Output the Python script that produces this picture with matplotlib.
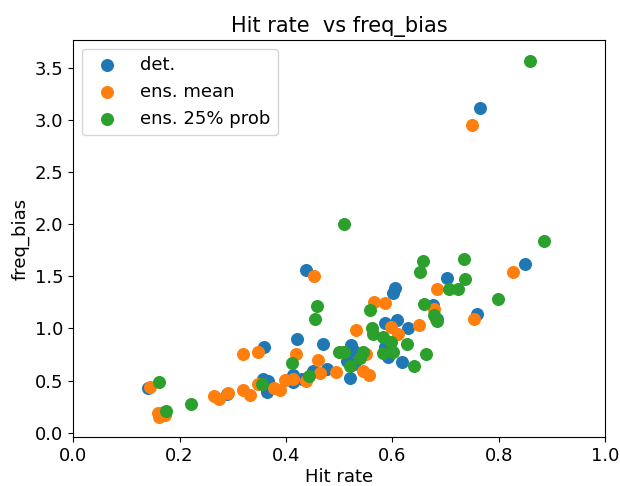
import matplotlib
matplotlib.use("Agg")
import matplotlib.pyplot as plt

# det.
det_hr = [0.141, 0.765, 0.438, 0.358, 0.420, 0.470, 0.477, 0.451, 0.356, 0.367,
          0.364, 0.413, 0.413, 0.289, 0.167, 0.849, 0.759, 0.702, 0.605, 0.602,
          0.677, 0.684, 0.587, 0.608, 0.629, 0.522, 0.527, 0.586, 0.591, 0.618,
          0.514, 0.527, 0.520, 0.430]
det_fb = [0.43, 3.11, 1.56, 0.82, 0.895, 0.853, 0.61, 0.59, 0.51, 0.50,
          0.39, 0.55, 0.49, 0.37, 0.19, 1.62, 1.14, 1.48, 1.385, 1.34,
          1.225, 1.09, 1.055, 1.08, 1.007, 0.84, 0.78, 0.825, 0.73, 0.68,
          0.69, 0.655, 0.52, 0.515]

# ens. mean
mean_hr = [0.145, 0.159, 0.161, 0.173, 0.453, 0.320, 0.348, 0.418, 0.461, 0.464,
           0.495, 0.438, 0.398, 0.414, 0.378, 0.388, 0.348, 0.320, 0.333, 0.292,
           0.265, 0.274, 0.827, 0.753, 0.684, 0.565, 0.587, 0.678, 0.650, 0.598,
           0.611, 0.532, 0.508, 0.550, 0.545, 0.556, 0.749]
mean_fb = [0.44, 0.186, 0.153, 0.17, 1.50, 0.757, 0.77, 0.75, 0.70, 0.575,
           0.585, 0.496, 0.505, 0.515, 0.43, 0.41, 0.467, 0.41, 0.36, 0.378,
           0.35, 0.32, 1.54, 1.09, 1.375, 1.256, 1.24, 1.186, 1.033, 1.016,
           0.943, 0.985, 0.77, 0.75, 0.594, 0.553, 2.947]

# ens. 25% prob
prob_hr = [0.161, 0.175, 0.222, 0.458, 0.454, 0.412, 0.443, 0.355, 0.500, 0.858,
           0.509, 0.886, 0.658, 0.652, 0.735, 0.737, 0.707, 0.723, 0.799, 0.660,
           0.558, 0.678, 0.683, 0.684, 0.562, 0.564, 0.583, 0.597, 0.627, 0.663,
           0.582, 0.602, 0.545, 0.540, 0.640, 0.520, 0.510]
prob_fb = [0.483, 0.21, 0.272, 1.218, 1.087, 0.665, 0.544, 0.467, 0.771, 3.564,
           2.004, 1.84, 1.649, 1.544, 1.662, 1.474, 1.38, 1.375, 1.282, 1.234,
           1.173, 1.128, 1.09, 1.07, 1.0, 0.946, 0.915, 0.873, 0.848, 0.758,
           0.761, 0.777, 0.777, 0.72, 0.643, 0.64, 0.771]

fig = plt.figure(figsize=(6.2, 4.86), dpi=100)
ax = fig.add_axes([0.118, 0.1, 0.858, 0.818])

ax.scatter(det_hr, det_fb, s=70, label="det.")
ax.scatter(mean_hr, mean_fb, s=70, label="ens. mean")
ax.scatter(prob_hr, prob_fb, s=70, label="ens. 25% prob")

ax.set_xlim(0, 1)
ax.set_ylim(-0.045, 3.765)
ax.set_xlabel("Hit rate", fontsize=13, labelpad=2)
ax.set_ylabel("freq_bias", fontsize=13)
ax.set_title("Hit rate  vs freq_bias", fontsize=15)
ax.tick_params(labelsize=13)
ax.legend(loc="upper left", fontsize=13, scatterpoints=1)

fig.savefig("out.png", dpi=100)
